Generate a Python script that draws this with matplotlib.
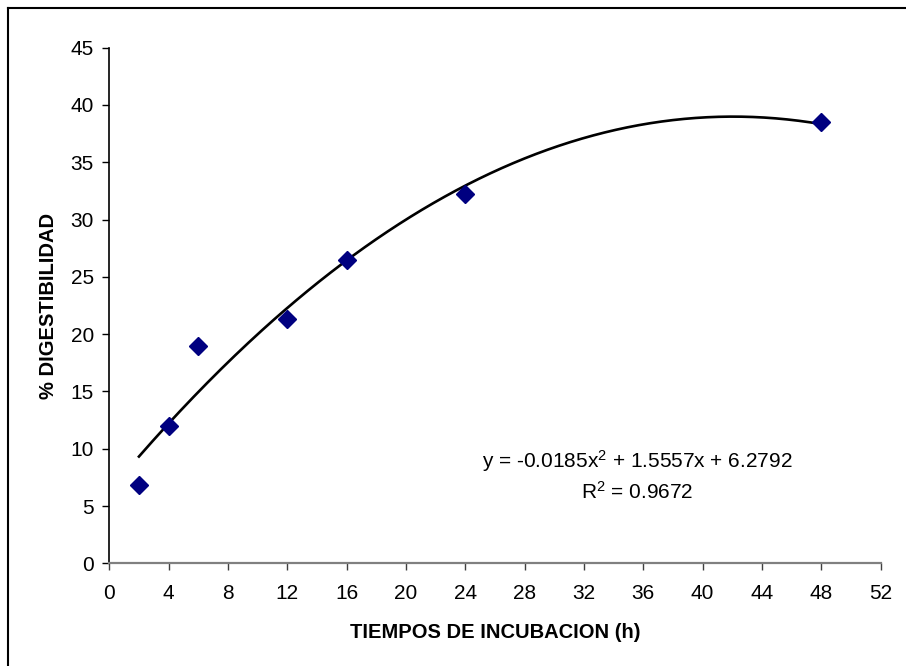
import numpy as np
import matplotlib
matplotlib.use("Agg")
import matplotlib.pyplot as plt
from matplotlib.lines import Line2D

plt.rcParams['font.family'] = ['Liberation Sans', 'DejaVu Sans']
plt.rcParams['mathtext.fontset'] = 'custom'
plt.rcParams['mathtext.rm'] = 'Liberation Sans'
plt.rcParams['mathtext.it'] = 'Liberation Sans'

# Incubation times (h) and digestibility (%)
hours = [2, 4, 6, 12, 16, 24, 48]
digestibility = [6.8, 12.0, 19.0, 21.3, 26.5, 32.2, 38.5]

# Polynomial trend (order 2) coefficients: a*x^2 + b*x + c
trend_coef = [-0.0185, 1.5557, 6.2792]
r_squared = 0.9672

x_ticks = list(range(0, 53, 4))
y_ticks = list(range(0, 46, 5))

fig = plt.figure(figsize=(9.06, 6.66), dpi=100)
ax = fig.add_axes([0.1206, 0.1542, 0.9720 - 0.1206, 0.9284 - 0.1542])

xs = np.linspace(min(hours), max(hours), 300)
ax.plot(xs, np.polyval(trend_coef, xs), color='black', lw=1.9, zorder=2)
ax.plot(hours, digestibility, linestyle='none', marker='D', ms=9,
        color='#000080', mec='#000080', zorder=3)

ax.set_xlim(0, 52)
ax.set_ylim(0, 45)
ax.set_xticks(x_ticks)
ax.set_yticks(y_ticks)
ax.tick_params(axis='both', labelsize=15, direction='out', length=5, width=1)
ax.tick_params(axis='y', pad=6, color='black')
ax.tick_params(axis='x', pad=10, color='#404040')

for s in ('top', 'right'):
    ax.spines[s].set_visible(False)
ax.spines['left'].set_color('black')
ax.spines['left'].set_linewidth(1.2)
ax.spines['bottom'].set_color('#808080')
ax.spines['bottom'].set_linewidth(1.6)

ax.set_xlabel('TIEMPOS DE INCUBACION (h)', fontsize=14.5, fontweight='bold', labelpad=14)
ax.set_ylabel('% DIGESTIBILIDAD', fontsize=14.5, fontweight='bold', labelpad=9)

a, b, c = trend_coef
ax.text(35.6, 8.9, f'y = {a}x$^2$ + {b}x + {c}', fontsize=15,
        ha='center', va='center')
ax.text(35.6, 6.2, f'R$^2$ = {r_squared}', fontsize=15, ha='center', va='center')

# Outer frame edges along top and left
fig.add_artist(Line2D([8/906, 1], [1 - 8/666, 1 - 8/666], transform=fig.transFigure,
                      color='black', lw=1.5))
fig.add_artist(Line2D([8/906, 8/906], [0, 1 - 8/666], transform=fig.transFigure,
                      color='black', lw=1.5))

fig.savefig('out.png', dpi=100, facecolor='white')
